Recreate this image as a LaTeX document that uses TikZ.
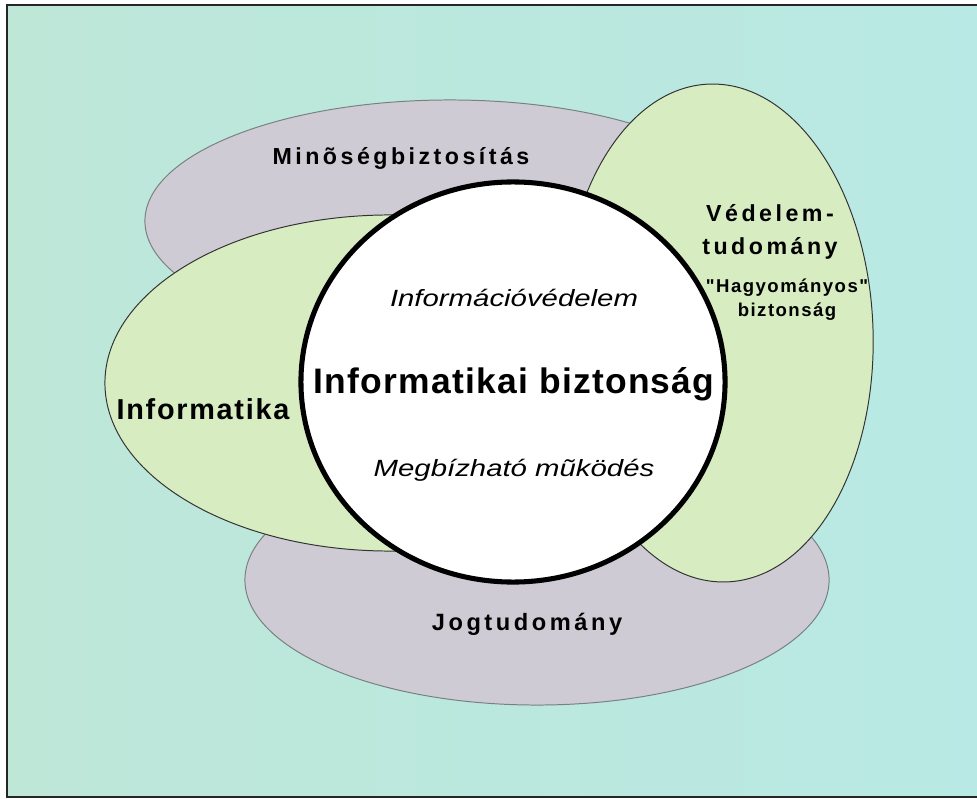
\documentclass[tikz,border=0pt]{standalone}
\usepackage{fontspec}
\usetikzlibrary{shapes.geometric,positioning}

\newfontfamily\labelfont{Liberation Sans}
\newfontfamily\widefont[FakeStretch=1.25]{Liberation Sans}

\definecolor{paper}{RGB}{190,231,216}
\definecolor{papercyan}{RGB}{184,233,228}
\definecolor{lilac}{RGB}{207,203,213}
\definecolor{lemon}{RGB}{215,236,193}
\definecolor{rimgray}{RGB}{120,128,128}

\begin{document}
\begin{tikzpicture}[x=0.025cm,y=-0.025cm,
    field/.style={ellipse,inner sep=0pt,line width=0.7pt},
    grayfield/.style={field,draw=rimgray,fill=lilac},
    greenfield/.style={field,draw=black!80,fill=lemon},
    core/.style={ellipse,inner sep=0pt,draw=black,line width=3.6pt,fill=white},
    bigtitle/.style={anchor=base,font=\labelfont\bfseries\fontsize{25.2}{30}\selectfont\addfontfeature{LetterSpace=3.5}},
    sublabel/.style={anchor=base,font=\widefont\itshape\fontsize{16.7}{20}\selectfont},
    fieldlabel/.style={anchor=base,font=\labelfont\bfseries\fontsize{16.5}{20}\selectfont\addfontfeature{LetterSpace=15}},
    smalllabel/.style={anchor=base,font=\labelfont\bfseries\fontsize{13.2}{16}\selectfont\addfontfeature{LetterSpace=8}}]

  \useasboundingbox (0,0) rectangle (977,799);
  \fill[white] (0,0) rectangle (977,799);
  \shade[left color=paper,right color=papercyan] (7,5) rectangle (990,797);
  \draw[line width=1.4pt,black!85] (7,5) rectangle (990,797);

  % the fields
  \node[grayfield,minimum width=15.25cm,minimum height=6.05cm]  (minoseg)     at (450,221) {};
  \node[grayfield,minimum width=14.6cm,minimum height=6.25cm]   (jog)         at (537,580) {};
  \node[greenfield,minimum width=14.25cm,minimum height=8.4cm]  (informatika) at (390,383) {};
  \node[greenfield,minimum width=7.75cm,minimum height=12.45cm,rotate=2] (vedelem) at (718,333) {};
  \node[core,minimum width=10.6cm,minimum height=10cm]          (biztonsag)   at (513,382) {};

  % labels
  \node[fieldlabel] (minosegtext) at (401,165) {Minõségbiztosítás};
  \node[fieldlabel] (vedelemtext) at (770,222) {Védelem-};
  \node[fieldlabel] (tudomanytext) at ([yshift=-23.4pt]vedelemtext.base) {tudomány};
  \node[smalllabel] (hagyomanyostext) at (787,293) {"Hagyományos"};
  \node[smalllabel] (biztonsagtext) at ([yshift=-17pt]hagyomanyostext.base) {biztonság};
  \node[fieldlabel,font=\labelfont\bfseries\fontsize{20.5}{24}\selectfont\addfontfeature{LetterSpace=6}] (informatikatext) at (203,419) {Informatika};
  \node[fieldlabel,font=\labelfont\bfseries\fontsize{16.8}{20}\selectfont\addfontfeature{LetterSpace=15}] (jogtext) at (527,630) {Jogtudomány};

  \node[bigtitle] (titletext) at (514,394) {Informatikai biztonság};
  \node[sublabel] (infovedtext) at ([yshift=62.4pt]titletext.base) {Információvédelem};
  \node[sublabel] (mukodestext) at ([yshift=-58.8pt]titletext.base) {Megbízható mũködés};
\end{tikzpicture}
\end{document}
